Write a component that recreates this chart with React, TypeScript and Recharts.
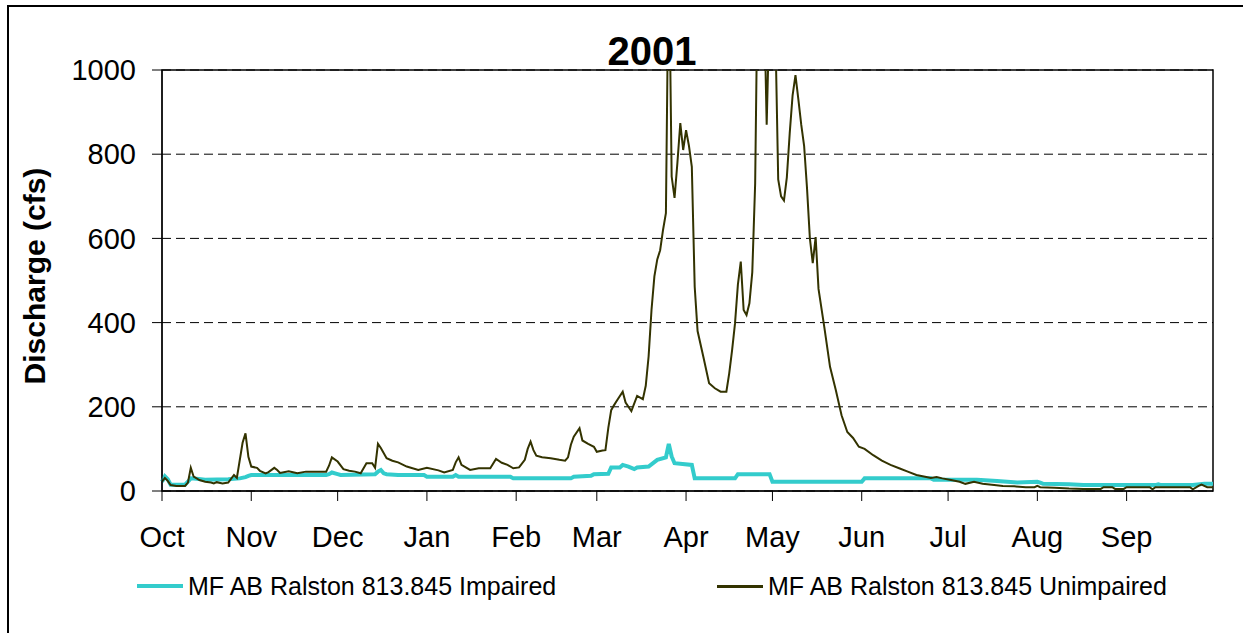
import {
  LineChart,
  Line,
  XAxis,
  YAxis,
  CartesianGrid,
  ReferenceArea
} from 'recharts';

// water year 2000-10-01 .. 2001-09-30, x = day of water year
const monthStarts = [0, 31, 61, 92, 123, 151, 182, 212, 243, 273, 304, 335];
const monthLabels = ['Oct', 'Nov', 'Dec', 'Jan', 'Feb', 'Mar', 'Apr', 'May', 'Jun', 'Jul', 'Aug', 'Sep'];
const yTicks = [0, 200, 400, 600, 800, 1000];
const yMinorTicks = [100, 300, 500, 700, 900];

const impairedDays = [
  0, 1, 2, 3, 8, 9, 10, 12, 15, 23, 25, 27, 29, 30, 31, 57, 58, 59, 61, 62, 74, 75, 76, 77, 78, 82, 91, 92,
  101, 102, 103, 121, 122, 142, 143, 149, 150, 155, 156, 159, 160, 162, 164, 165, 169, 172, 175, 176, 177,
  178, 184, 185, 199, 200, 211, 212, 243, 244, 267, 268, 283, 290, 297, 304, 305, 306, 315, 320, 345, 346,
  347, 358, 362, 365
];
const impairedCfs = [
  22, 35, 28, 15, 15, 22, 30, 29, 27, 28, 29, 30, 33, 36, 38, 38, 40, 44, 40, 38, 40, 46, 50, 42, 40, 38, 38, 34,
  34, 38, 34, 34, 30, 30, 34, 36, 40, 41, 56, 56, 62, 58, 52, 56, 58, 74, 80, 112, 82,
  66, 62, 30, 30, 40, 40, 22, 22, 30, 30, 27, 27, 24, 20, 22, 20, 17, 16, 14, 14, 16,
  14, 14, 17, 17
];

const unimpairedDays = [
  0, 1, 2, 3, 5, 8, 9, 10, 11, 13, 15, 17, 18, 19, 21, 23, 25, 26, 28, 29, 30, 31, 33, 34, 36, 37, 39, 40,
  41, 44, 47, 50, 54, 57, 58, 59, 61, 63, 65, 67, 69, 71, 73, 74, 75, 76, 78, 80, 82, 85, 89, 92, 96, 98,
  101, 102, 103, 104, 107, 110, 114, 116, 118, 120, 122, 124, 126, 127, 128, 129, 130, 132, 135, 138, 140,
  141, 142, 143, 145, 146, 148, 150, 151, 153, 154, 155, 156, 157, 158, 160, 161, 163, 165, 167, 168, 169,
  170, 171, 172, 173, 174, 175, 176, 177, 178, 179, 180, 181, 182, 183, 184, 185, 186, 188, 190, 192, 194,
  196, 197, 198, 199, 200, 201, 202, 203, 204, 205, 206, 207, 208, 209, 210, 211, 212, 213, 214, 215, 216,
  217, 218, 219, 220, 221, 222, 223, 224, 225, 226, 227, 228, 230, 232, 234, 236, 238, 240, 242, 244, 247,
  250, 253, 256, 259, 262, 265, 267, 269, 271, 274, 277, 279, 282, 285, 289, 292, 296, 300, 303, 304, 305,
  310, 315, 320, 326, 327, 330, 331, 334, 335, 343, 344, 345, 357, 358, 360, 361, 363, 365
];
const unimpairedCfs = [
  22, 31, 24, 14, 12, 12, 20, 55, 34, 26, 22, 20, 18, 21, 18, 20, 38, 31, 115, 137, 81, 58, 55, 48, 42, 45, 55, 50,
  43, 47, 42, 46, 46, 46, 60, 80, 70, 52, 48, 46, 42, 66, 66, 55, 112, 102, 78, 72, 68, 58, 50, 55, 49, 44,
  50, 68, 80, 62, 50, 54, 54, 76, 67, 62, 54, 56, 74, 100, 117, 97, 84, 80, 78, 74, 72,
  80, 110, 129, 149, 120, 112, 105, 93, 96, 97, 150, 192, 204, 215, 236, 210, 190, 226, 218, 250, 320,
  430, 510, 550, 572, 620, 660, 1300, 747, 696, 780, 874, 810, 857, 820, 770, 485, 380, 319, 256, 244, 236,
  236, 280, 335, 398, 490, 545, 430, 418, 446, 520, 731, 1300, 1450, 1200, 870, 1150, 1350, 1100, 740, 700, 690,
  745, 850, 940, 988, 930, 870, 820, 720, 600, 541, 603, 480, 390, 295, 240, 180, 140, 126, 105, 100, 85,
  72, 62, 54, 46, 38, 34, 31, 33, 30, 26, 22, 17, 22, 17, 14, 12, 11, 9, 9, 12, 9,
  8, 6, 5, 5, 9, 9, 5, 5, 9, 9, 4, 9, 9, 4, 12, 15, 9, 9
];

const impairedData = impairedDays.map((day, i) => ({ day, cfs: impairedCfs[i] }));
const unimpairedData = unimpairedDays.map((day, i) => ({ day, cfs: unimpairedCfs[i] }));

const FONT = '"Liberation Sans", Arial, sans-serif';
const CYAN = '#33CCCC';
const OLIVE = '#333300';

const monthName = (d: number) => monthLabels[monthStarts.indexOf(d)] ?? '';

const LegendItem = ({ left, color, width, text }: { left: number; color: string; width: number; text: string }) => (
  <div style={{ position: 'absolute', left, top: 571, display: 'flex', alignItems: 'center', height: 30 }}>
    <div style={{ width: 46, height: width, background: color, marginRight: 5 }} />
    <span style={{ fontSize: 25, whiteSpace: 'nowrap' }}>{text}</span>
  </div>
);

const App = () => (
  <div style={{ position: 'fixed', left: 0, top: 0, width: 1243, height: 633, overflow: 'hidden', fontFamily: FONT, background: '#fff' }}>
    <div style={{ position: 'absolute', left: 7, top: 5, width: 1400, height: 800, borderLeft: '2px solid #000', borderTop: '2px solid #000' }} />
    <div style={{ position: 'absolute', left: 0, top: 0 }}>
      <LineChart width={1243} height={633} margin={{ top: 70, right: 30, bottom: 82, left: 0 }}>
        <CartesianGrid vertical={false} stroke='#000' strokeDasharray='9 5' />
        <XAxis
          type='number'
          dataKey='day'
          domain={[0, 365]}
          ticks={monthStarts}
          tickFormatter={monthName}
          interval={0}
          height={60}
          tickSize={10}
          tickMargin={25}
          stroke='#000'
          tick={{ fill: '#000', fontSize: 29, fontFamily: FONT }}
        />
        <YAxis
          type='number'
          domain={[0, 1000]}
          ticks={yTicks}
          allowDataOverflow
          width={162}
          tickSize={10}
          tickMargin={16}
          stroke='#000'
          tick={{ fill: '#000', fontSize: 29, fontFamily: FONT }}
        />
        <YAxis
          yAxisId='minor'
          type='number'
          domain={[0, 1000]}
          ticks={yMinorTicks}
          mirror
          width={0}
          tickSize={6}
          axisLine={false}
          tick={false}
          stroke='#000'
        />
        <ReferenceArea x1={0} x2={365} y1={0} y2={1000} fill='none' stroke='#000' strokeWidth={1.5} />
        <Line
          data={impairedData}
          dataKey='cfs'
          name='MF AB Ralston 813.845 Impaired'
          stroke={CYAN}
          strokeWidth={4}
          dot={false}
          type='linear'
          isAnimationActive={false}
        />
        <Line
          data={unimpairedData}
          dataKey='cfs'
          name='MF AB Ralston 813.845 Unimpaired'
          stroke={OLIVE}
          strokeWidth={2}
          dot={false}
          type='linear'
          isAnimationActive={false}
        />
      </LineChart>
    </div>
    <div style={{ position: 'absolute', left: 552, top: 29, width: 200, textAlign: 'center', fontSize: 40, fontWeight: 'bold' }}>
      2001
    </div>
    <div
      style={{
        position: 'absolute',
        left: 35,
        top: 276,
        transform: 'translate(-50%, -50%) rotate(-90deg)',
        fontSize: 30,
        fontWeight: 'bold',
        whiteSpace: 'nowrap'
      }}
    >
      Discharge (cfs)
    </div>
    <LegendItem left={137} color={CYAN} width={4} text='MF AB Ralston 813.845 Impaired' />
    <LegendItem left={717} color={OLIVE} width={3} text='MF AB Ralston 813.845 Unimpaired' />
  </div>
);

export default App;
